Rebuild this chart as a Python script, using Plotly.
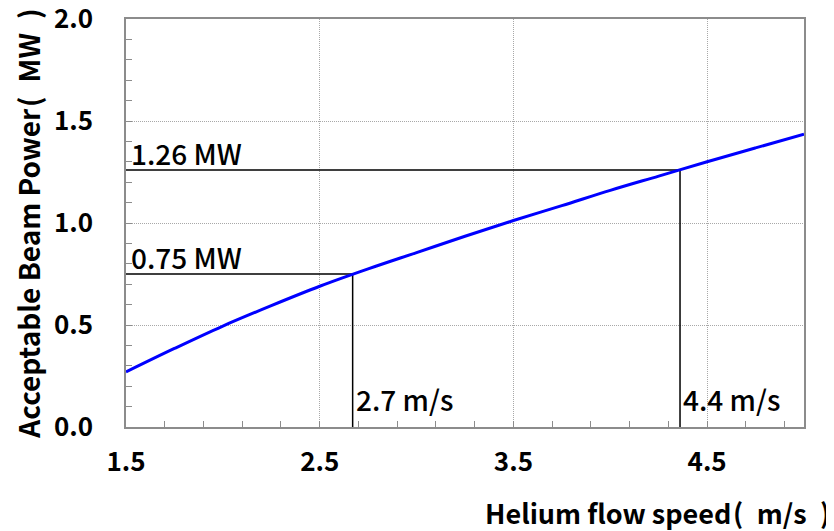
import plotly.graph_objects as go

# Curve data
speed = [1.5, 1.75, 2.0, 2.25, 2.5, 2.75, 3.0, 3.25, 3.5, 3.75, 4.0, 4.25, 4.5, 4.75, 5.0]
power = [0.27, 0.385, 0.495, 0.595, 0.69, 0.775, 0.855, 0.935, 1.012, 1.085, 1.16, 1.23, 1.30, 1.368, 1.435]

# Reference markers
ref_speed = [2.67, 4.36]
ref_power = [0.75, 1.26]
ref_speed_labels = ["2.7 m/s", "4.4 m/s"]
ref_power_labels = ["0.75 MW", "1.26 MW"]

x_title = "Helium flow speed\u200a(\u2002m/s\u2002)"
y_title = "Acceptable Beam Power\u200a(\u2002MW\u2002)"

x_min, x_max = 1.5, 5.0
y_min, y_max = 0.0, 2.0

FONT = "Noto Sans CJK JP"
AX = "#8c8c8c"

fig = go.Figure()

for xs, ys in zip(ref_speed, ref_power):
    fig.add_trace(go.Scatter(
        x=[x_min, xs, xs], y=[ys, ys, y_min], mode="lines",
        line=dict(color="black", width=1.5), hoverinfo="skip", showlegend=False))

fig.add_trace(go.Scatter(
    x=speed, y=power, mode="lines", line=dict(color="#0000ff", width=3, shape="spline"),
    showlegend=False))

annotations = []
for xs, ys, lx, ly in zip(ref_speed, ref_power, ref_speed_labels, ref_power_labels):
    annotations.append(dict(x=x_min, y=ys, xref="x", yref="y", text=ly, showarrow=False,
                            xanchor="left", yanchor="bottom", xshift=3, yshift=-5,
                            font=dict(family=FONT, size=28, color="black", weight=500)))
    annotations.append(dict(x=xs, y=y_min, xref="x", yref="y", text=lx, showarrow=False,
                            xanchor="left", yanchor="bottom", xshift=1, yshift=6,
                            font=dict(family=FONT, size=28, color="black", weight=500)))

annotations.append(dict(x=1.0, y=0, xref="paper", yref="paper", text=x_title,
                        showarrow=False, xanchor="right", yanchor="top", xshift=28, yshift=-64,
                        font=dict(family=FONT, size=27, color="black", weight="bold")))

# page body has an 8px default margin, so the figure is sized to fit within the window
fig.update_layout(
    width=826, height=523,
    margin=dict(l=118, r=30, t=11, b=104, autoexpand=False),
    plot_bgcolor="white", paper_bgcolor="white",
    annotations=annotations,
    font=dict(family=FONT, color="black"),
)

common = dict(
    showline=True, linecolor=AX, linewidth=1.5, mirror=True,
    showgrid=True, gridcolor="#a8a8a8", griddash="1px,1px", gridwidth=1,
    ticks="inside", ticklen=6, tickcolor=AX, tickwidth=1,
    tickfont=dict(family=FONT, size=26, color="black", weight="bold"),
    tickformat=".1f", zeroline=False, automargin=False, ticklabeloverflow="allow",
)

fig.update_xaxes(
    range=[x_min, x_max], tick0=1.5, dtick=1.0,
    minor=dict(tick0=1.5, dtick=0.2, ticks="inside", ticklen=6, tickcolor=AX, showgrid=False),
    ticklabelstandoff=11, **common,
)
fig.update_yaxes(
    range=[y_min, y_max], tick0=0, dtick=0.5,
    minor=dict(tick0=0, dtick=0.1, ticks="inside", ticklen=6, tickcolor=AX, showgrid=False),
    ticklabelstandoff=26,
    title=dict(text=y_title, standoff=12,
               font=dict(family=FONT, size=28, color="black", weight="bold")),
    **common,
)

fig.write_html("out.html")
